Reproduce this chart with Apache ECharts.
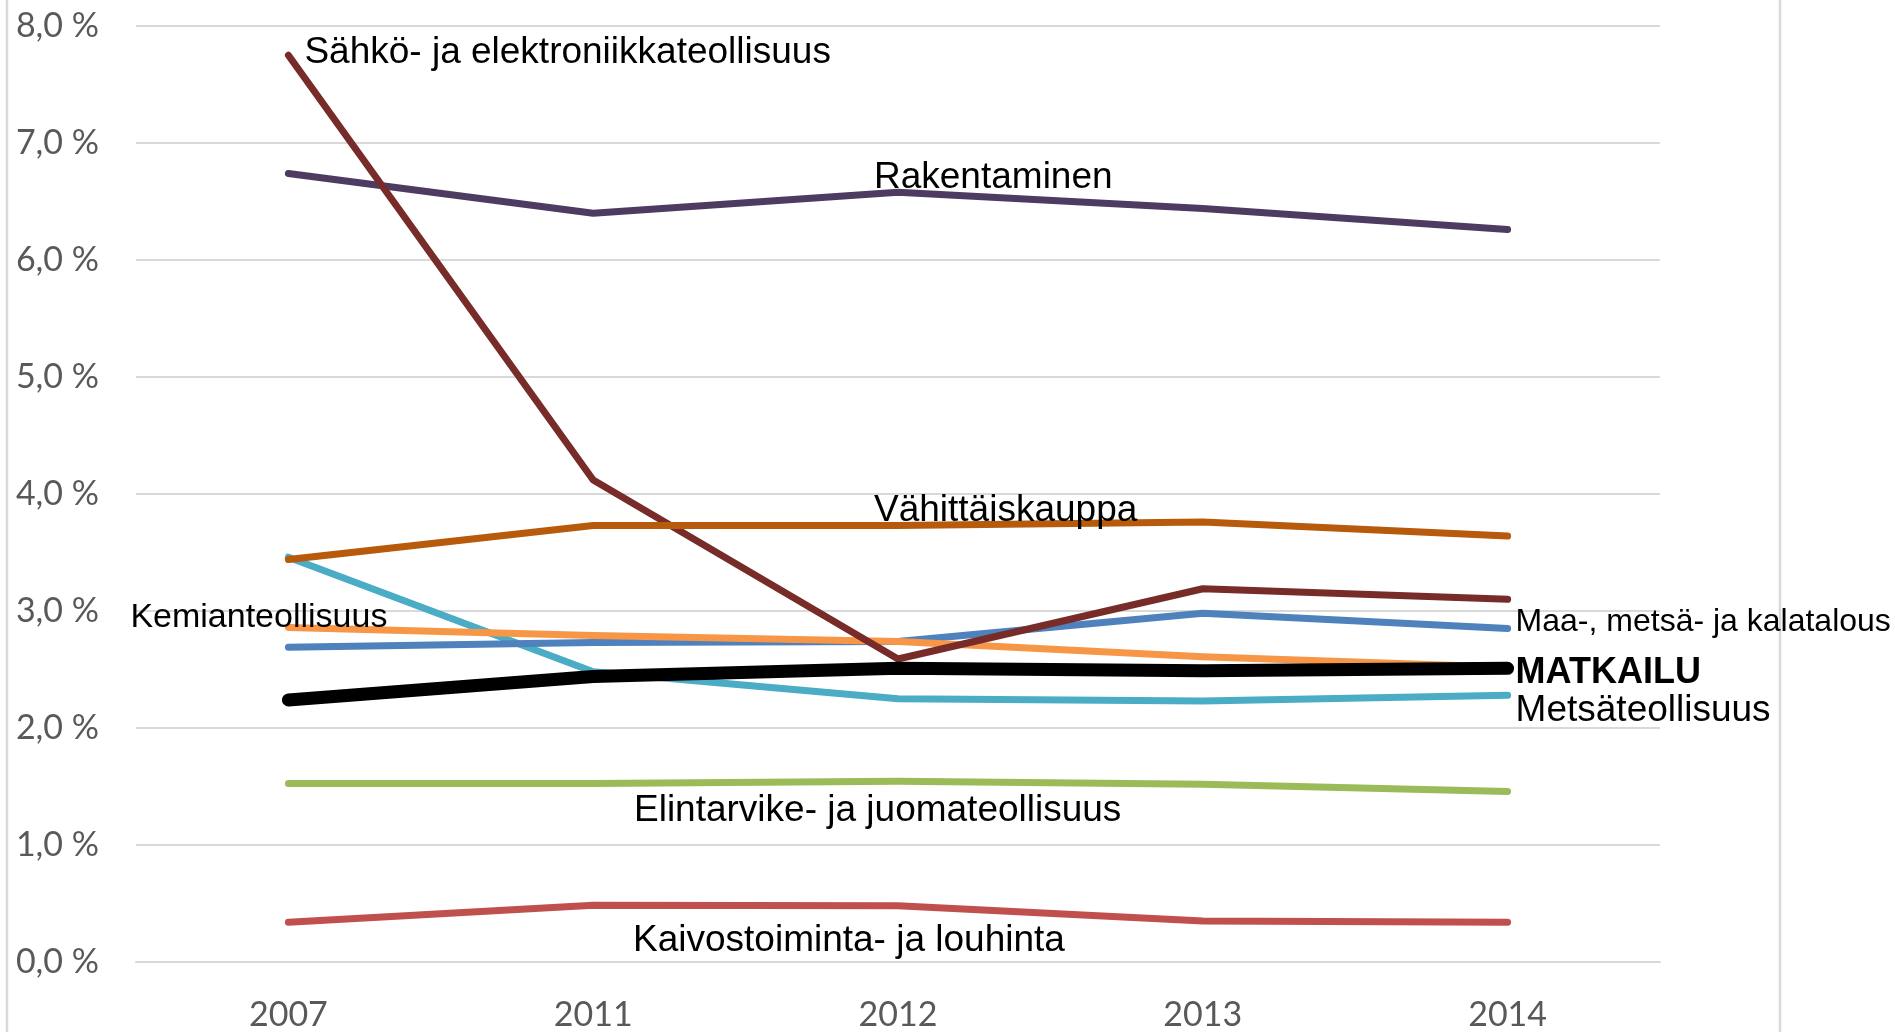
<!DOCTYPE html>
<html>
<head>
<meta charset="utf-8">
<title>Toimialojen osuudet</title>
<script src="https://cdn.jsdelivr.net/npm/echarts@6/dist/echarts.min.js"></script>
<style>
  html, body { margin: 0; padding: 0; background: #fff; }
  #chart { width: 1895px; height: 1032px; }
</style>
</head>
<body>
<div id="chart"></div>
<script>
const years = ['2007', '2011', '2012', '2013', '2014'];

// osuudet prosentteina, luettu kuvasta
const sahko = [7.75, 4.12, 2.59, 3.19, 3.10];
const rakentaminen = [6.74, 6.40, 6.58, 6.44, 6.26];
const vahittais = [3.44, 3.73, 3.73, 3.76, 3.64];
const metsateollisuus = [3.46, 2.48, 2.25, 2.23, 2.28];
const kemian = [2.86, 2.79, 2.74, 2.61, 2.52];
const maatalous = [2.69, 2.73, 2.74, 2.98, 2.85];
const matkailu = [2.24, 2.44, 2.51, 2.49, 2.51];
const elintarvike = [1.525, 1.525, 1.545, 1.52, 1.457];
const kaivos = [0.34, 0.485, 0.48, 0.35, 0.34];

// name, data, color, width, label point index, label offset [x, y], font size, bold
const defs = [
  { name: 'Rakentaminen', data: rakentaminen, color: '#4E3B62', w: 7, at: 2, pos: [-24, -14], fs: 37 },
  { name: 'Metsäteollisuus', data: metsateollisuus, color: '#4BACC6', w: 7, at: 4, pos: [8, 16], fs: 37 },
  { name: 'Maa-, metsä- ja kalatalous', data: maatalous, color: '#4F81BD', w: 7, at: 4, pos: [8, -6], fs: 32 },
  { name: 'Kemianteollisuus', data: kemian, color: '#F79646', w: 7, at: 0, pos: [-158, -10], fs: 34 },
  { name: 'Sähkö- ja elektroniikkateollisuus', data: sahko, color: '#772C2A', w: 7, at: 0, pos: [16, -2], fs: 37 },
  { name: 'Vähittäiskauppa', data: vahittais, color: '#B75A0B', w: 7, at: 2, pos: [-24, -15], fs: 37 },
  { name: 'Elintarvike- ja juomateollisuus', data: elintarvike, color: '#9BBB59', w: 7, at: 2, pos: [-264, 30], fs: 37 },
  { name: 'Kaivostoiminta- ja louhinta', data: kaivos, color: '#C0504D', w: 7, at: 2, pos: [-265, 35], fs: 37 },
  { name: 'MATKAILU', data: matkailu, color: '#000000', w: 13, at: 4, pos: [8, 5], fs: 36, bold: true }
];

const series = defs.map((d, k) => ({
  name: d.name,
  type: 'line',
  z: 2 + k,
  symbol: 'circle',
  symbolSize: 0.01,
  showSymbol: true,
  silent: true,
  itemStyle: { color: d.color },
  lineStyle: { color: d.color, width: d.w, cap: 'round', join: 'round' },
  emphasis: { disabled: true },
  data: d.data.map((v, i) => (i === d.at ? {
    value: v,
    label: {
      show: true,
      position: d.pos,
      align: 'left',
      verticalAlign: 'middle',
      formatter: d.name,
      color: '#000',
      fontFamily: '"Liberation Sans", Arial, sans-serif',
      fontSize: d.fs,
      fontWeight: d.bold ? 'bold' : 'normal'
    }
  } : v))
}));

const chart = echarts.init(document.getElementById('chart'));
chart.setOption({
  animation: false,
  backgroundColor: '#fff',
  grid: { left: 136, right: 235, top: 26, bottom: 70 },
  xAxis: {
    type: 'category',
    data: years,
    boundaryGap: true,
    axisLine: { show: true, lineStyle: { color: '#d9d9d9', width: 2 } },
    axisTick: { show: false },
    axisLabel: { color: '#595959', fontFamily: 'Lato, sans-serif', fontSize: 34, margin: 36 }
  },
  yAxis: {
    type: 'value',
    min: 0,
    max: 8,
    interval: 1,
    axisLine: { show: false },
    axisTick: { show: false },
    splitLine: { lineStyle: { color: '#d9d9d9', width: 2 } },
    axisLabel: {
      color: '#595959',
      fontFamily: 'Lato, sans-serif',
      fontSize: 34,
      margin: 37,
      formatter: v => v.toFixed(1).replace('.', ',') + ' %'
    }
  },
  graphic: [
    { type: 'line', shape: { x1: 7, y1: 0, x2: 7, y2: 1032 }, style: { stroke: '#d9d9d9', lineWidth: 2.5 } },
    { type: 'line', shape: { x1: 1780, y1: 0, x2: 1780, y2: 1032 }, style: { stroke: '#d9d9d9', lineWidth: 2.5 } }
  ],
  series: series
});
</script>
</body>
</html>
